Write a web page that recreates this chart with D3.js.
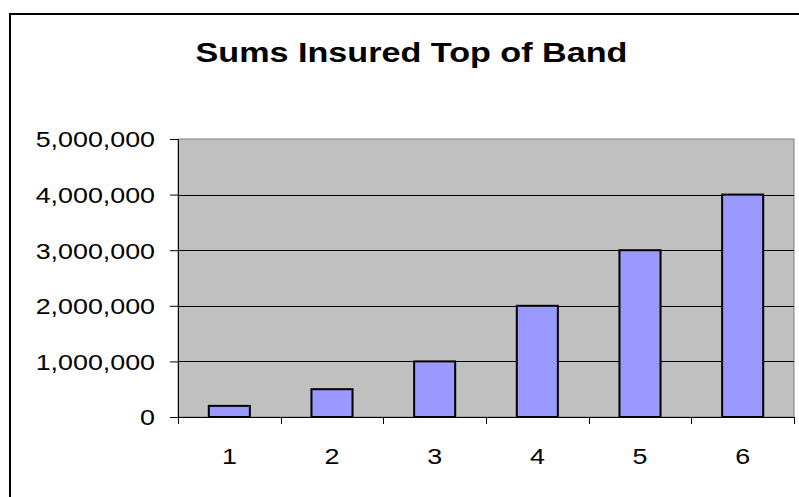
<!DOCTYPE html>
<html>
<head>
<meta charset="utf-8">
<script src="https://cdn.jsdelivr.net/npm/d3@7"></script>
<style>
  html, body { margin: 0; padding: 0; background: #fff; }
  svg { display: block; }
  text { font-family: Arial, "Liberation Sans", sans-serif; fill: #000; }
</style>
</head>
<body>
<svg id="chart" width="799" height="497"></svg>
<script>
const title = "Sums Insured Top of Band";
const categories = ["1", "2", "3", "4", "5", "6"];
const values = [200000, 500000, 1000000, 2000000, 3000000, 4000000];
const yTicks = [0, 1000000, 2000000, 3000000, 4000000, 5000000];

const W = 799, H = 497;
const STRETCH = 1.22;
const plot = { left: 178, right: 794, top: 139, bottom: 417 };

const svg = d3.select("#chart");

// outer chart border (extends beyond the visible window)
svg.append("rect")
  .attr("x", 10).attr("y", 14)
  .attr("width", 840).attr("height", 520)
  .attr("fill", "#fff").attr("stroke", "#000").attr("stroke-width", 2);

const x = d3.scaleBand()
  .domain(categories)
  .range([plot.left, plot.right])
  .paddingInner(0.6)
  .paddingOuter(0.3);

const y = d3.scaleLinear()
  .domain([0, 5000000])
  .range([plot.bottom, plot.top]);

// plot area
svg.append("rect")
  .attr("x", plot.left).attr("y", plot.top)
  .attr("width", plot.right - plot.left)
  .attr("height", plot.bottom - plot.top)
  .attr("fill", "#c0c0c0")
  .attr("stroke", "#808080").attr("stroke-width", 1);

// gridlines
svg.append("g")
  .selectAll("line")
  .data(yTicks.filter(v => v > 0 && v < 5000000))
  .join("line")
  .attr("x1", plot.left).attr("x2", plot.right)
  .attr("y1", d => Math.round(y(d)) + 0.5)
  .attr("y2", d => Math.round(y(d)) + 0.5)
  .attr("stroke", "#000").attr("stroke-width", 1);

// bars
svg.append("g")
  .selectAll("rect")
  .data(values)
  .join("rect")
  .attr("x", (d, i) => x(categories[i]))
  .attr("y", d => y(d))
  .attr("width", x.bandwidth())
  .attr("height", d => y(0) - y(d))
  .attr("fill", "#9999ff")
  .attr("stroke", "#000")
  .attr("stroke-width", 2);

// y axis
const yAxis = svg.append("g")
  .attr("transform", `translate(${plot.left},0)`)
  .call(d3.axisLeft(y).tickValues(yTicks).tickFormat(d3.format(",")).tickSize(8).tickSizeOuter(0));
yAxis.select(".domain").attr("stroke", "#000");
yAxis.selectAll(".tick line").attr("stroke", "#000");
yAxis.selectAll(".tick text")
  .attr("x", -23 / STRETCH)
  .attr("dy", "0.36em")
  .attr("transform", `scale(${STRETCH},1)`)
  .style("font-size", "22px")
  .style("font-family", "Arial, 'Liberation Sans', sans-serif")
  .attr("fill", "#000");

// x axis
const xAxis = svg.append("g")
  .attr("transform", `translate(0,${plot.bottom})`)
  .call(d3.axisBottom(x).tickSize(0).tickSizeOuter(0));
xAxis.select(".domain").attr("stroke", "#000");
xAxis.selectAll(".tick text")
  .attr("y", 0).attr("dy", 0)
  .attr("transform", `translate(0,47) scale(${STRETCH},1)`)
  .style("font-size", "22px")
  .style("font-family", "Arial, 'Liberation Sans', sans-serif")
  .attr("fill", "#000");
// category boundary tick marks
const step = x.step();
const boundaries = d3.range(categories.length + 1).map(i => plot.left + i * step);
xAxis.append("g")
  .selectAll("line")
  .data(boundaries)
  .join("line")
  .attr("x1", d => Math.round(d) + 0.5).attr("x2", d => Math.round(d) + 0.5)
  .attr("y1", 0).attr("y2", 7)
  .attr("stroke", "#000");

// title
svg.append("text")
  .attr("transform", `translate(411.5,61.5) scale(${STRETCH},1)`)
  .attr("text-anchor", "middle")
  .style("font-size", "28px")
  .style("font-weight", "bold")
  .text(title);
</script>
</body>
</html>
